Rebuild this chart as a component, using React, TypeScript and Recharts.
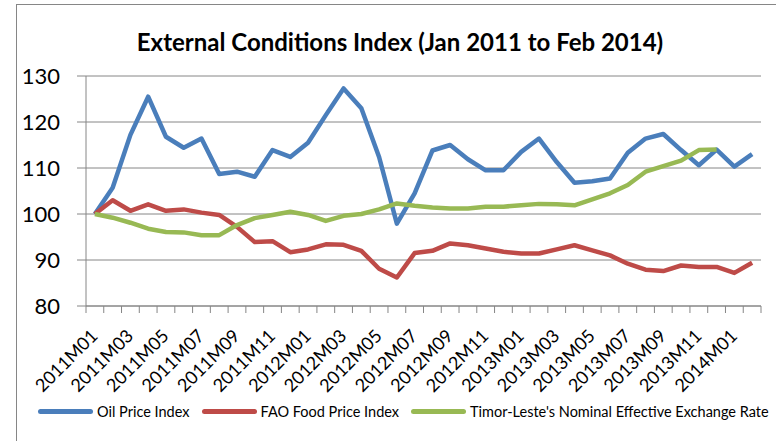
import React from "react";
import {
  LineChart,
  Line,
  XAxis,
  YAxis,
  CartesianGrid,
  Legend,
} from "recharts";

const MONTHS = [
  "2011M01", "2011M02", "2011M03", "2011M04", "2011M05", "2011M06",
  "2011M07", "2011M08", "2011M09", "2011M10", "2011M11", "2011M12",
  "2012M01", "2012M02", "2012M03", "2012M04", "2012M05", "2012M06",
  "2012M07", "2012M08", "2012M09", "2012M10", "2012M11", "2012M12",
  "2013M01", "2013M02", "2013M03", "2013M04", "2013M05", "2013M06",
  "2013M07", "2013M08", "2013M09", "2013M10", "2013M11", "2013M12",
  "2014M01", "2014M02",
];

const OIL_PRICE = [
  100, 105.7, 117.2, 125.5, 116.8, 114.4, 116.4, 108.7, 109.2, 108.1, 113.9, 112.4,
  115.5, 121.5, 127.3, 123.0, 112.4, 97.9, 104.5, 113.8, 115.0, 111.9, 109.5, 109.5,
  113.5, 116.4, 111.3, 106.8, 107.1, 107.7, 113.3, 116.4, 117.4, 113.9, 110.6, 114.0,
  110.3, 113.0,
];

const FAO_FOOD = [
  100, 103.0, 100.7, 102.1, 100.7, 101.0, 100.3, 99.8, 97.2, 93.9, 94.1, 91.7,
  92.3, 93.4, 93.3, 92.0, 88.1, 86.2, 91.5, 92.0, 93.6, 93.2, 92.5, 91.8,
  91.4, 91.4, 92.3, 93.2, 92.1, 91.0, 89.2, 87.9, 87.6, 88.8, 88.5, 88.5,
  87.2, 89.4,
];

const NEER = [
  100, 99.2, 98.1, 96.8, 96.1, 96.0, 95.4, 95.4, 97.6, 99.1, 99.8, 100.5,
  99.8, 98.5, 99.6, 100.0, 101.0, 102.3, 101.8, 101.4, 101.2, 101.2, 101.6, 101.6,
  101.9, 102.2, 102.1, 101.9, 103.2, 104.5, 106.3, 109.2, 110.4, 111.6, 113.9, 114.0,
  null, null,
];

const Y_TICKS = [80, 90, 100, 110, 120, 130];

const SERIES = [
  { key: "oil", label: "Oil Price Index", color: "#4A7EBB" },
  { key: "food", label: "FAO Food Price Index", color: "#BE4B48" },
  { key: "neer", label: "Timor-Leste's Nominal Effective Exchange Rate", color: "#98B954" },
];

const data = MONTHS.map((month, i) => ({
  month,
  oil: OIL_PRICE[i],
  food: FAO_FOOD[i],
  neer: NEER[i],
}));

const WIDTH = 776;
const HEIGHT = 441;
const MARGIN = { top: 76, right: 15, left: 0, bottom: 15 };
const Y_AXIS_W = 86;
const STEP = (WIDTH - MARGIN.left - MARGIN.right - Y_AXIS_W) / MONTHS.length;
const GRID = "#868686";
const FONT = "Lato, 'Liberation Sans', sans-serif";

function MonthTick(props: any) {
  const { x, y, payload, index } = props;
  const left = x - STEP / 2;
  return (
    <g>
      <line x1={left} y1={y} x2={left} y2={y + 7} stroke={GRID} />
      {index === MONTHS.length - 1 && (
        <line x1={x + STEP / 2} y1={y} x2={x + STEP / 2} y2={y + 7} stroke={GRID} />
      )}
      {index % 2 === 0 && (
        <text
          x={x + 4}
          y={y + 31}
          textAnchor="end"
          fontSize={18}
          fontFamily={FONT}
          fill="#000"
          transform={`rotate(-45, ${x + 4}, ${y + 31})`}
        >
          {payload.value}
        </text>
      )}
    </g>
  );
}

function LegendContent() {
  return (
    <div
      style={{
        display: "flex",
        alignItems: "center",
        height: 30,
        paddingLeft: 38,
        fontFamily: FONT,
        fontSize: 14.5,
        color: "#000",
        whiteSpace: "nowrap",
      }}
    >
      {SERIES.map((s) => (
        <div
          key={s.key}
          style={{ display: "flex", alignItems: "center", marginRight: 12, flexShrink: 0 }}
        >
          <span
            style={{
              display: "inline-block",
              width: 55,
              height: 5,
              borderRadius: 3,
              background: s.color,
              marginRight: 4,
            }}
          />
          <span>{s.label}</span>
        </div>
      ))}
    </div>
  );
}

export default function App() {
  return (
    <div
      style={{
        position: "absolute",
        left: 0,
        top: 0,
        width: WIDTH,
        height: HEIGHT,
        background: "#fff",
        overflow: "hidden",
      }}
    >
      <div
        style={{
          position: "absolute",
          left: 16,
          top: 4,
          right: -2,
          bottom: -2,
          borderLeft: `1px solid ${GRID}`,
          borderTop: `1px solid ${GRID}`,
        }}
      />
      <div
        style={{
          position: "absolute",
          left: 16,
          width: 768,
          top: 28,
          textAlign: "center",
          fontFamily: FONT,
          fontWeight: 700,
          fontSize: 24,
          lineHeight: "28px",
          color: "#000",
        }}
      >
        External Conditions Index (Jan 2011 to Feb 2014)
      </div>
      <LineChart width={WIDTH} height={HEIGHT} data={data} margin={MARGIN}>
        <CartesianGrid vertical={false} stroke={GRID} />
        <XAxis
          dataKey="month"
          scale="band"
          interval={0}
          tickLine={false}
          tickSize={0}
          tickMargin={0}
          axisLine={{ stroke: GRID }}
          height={90}
          tick={<MonthTick />}
        />
        <YAxis
          domain={[80, 130]}
          ticks={Y_TICKS}
          width={Y_AXIS_W}
          tickSize={9}
          tickMargin={17}
          axisLine={{ stroke: GRID }}
          tickLine={{ stroke: GRID }}
          tick={{ fill: "#000", fontSize: 22, fontFamily: FONT }}
        />
        <Legend
          verticalAlign="bottom"
          height={30}
          wrapperStyle={{ left: 0, width: WIDTH }}
          content={<LegendContent />}
        />
        {SERIES.map((s) => (
          <Line
            key={s.key}
            type="linear"
            dataKey={s.key}
            stroke={s.color}
            strokeWidth={4.5}
            strokeLinejoin="round"
            dot={false}
            activeDot={false}
            isAnimationActive={false}
          />
        ))}
      </LineChart>
    </div>
  );
}
